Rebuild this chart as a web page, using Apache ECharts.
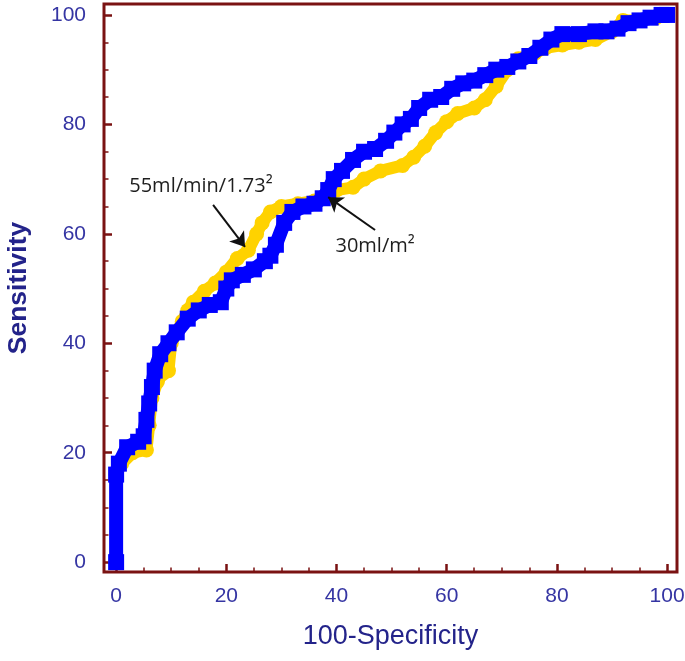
<!DOCTYPE html>
<html><head><meta charset="utf-8">
<script src="https://cdn.jsdelivr.net/npm/echarts@6/dist/echarts.min.js"></script>
<style>html,body{margin:0;padding:0;background:#fff}#c{width:685px;height:661px}</style>
</head><body><div id="c"></div>
<script>
// tick values
const majorTicks = [0, 20, 40, 60, 80, 100];
const minorTicks = [5, 10, 15, 25, 30, 35, 45, 50, 55, 65, 70, 75, 85, 90, 95];

// blue curve (30ml/m²)
const blueX = [0, 0, 0.5, 2, 4, 5, 5.5, 6, 6.5, 7, 8, 9.5, 11, 13, 15, 17, 19, 20, 21, 23, 25, 27, 28, 29, 30.5, 32, 34, 36, 37.5, 38.5, 39.5, 41, 43, 45, 47, 49, 50.5, 52, 53.5, 55, 57, 59, 61, 63, 65, 67, 69, 71, 73, 75, 77, 79, 81, 84, 87, 89, 91, 93, 95, 97, 99, 100];
const blueY = [0, 16, 18, 21, 22, 23, 26, 29, 32, 35, 38, 40, 42, 44.5, 46, 47, 47.5, 50, 51.5, 52.5, 53.5, 55, 56, 58, 62, 64, 65, 65.5, 66.5, 68, 70, 71.5, 73.5, 75, 75.5, 77, 78.5, 80, 81, 83, 84.5, 85, 86.5, 87.5, 88, 89, 90, 90.5, 91.5, 92.5, 94, 95.5, 96.5, 96.5, 97, 97, 97.5, 98.5, 99, 99.5, 100, 100];

// yellow curve (55ml/min/1.73²)
const yellowX = [0, 0, 1, 3, 5.5, 6, 6.5, 7.5, 8.5, 9.5, 10, 11, 12, 13, 14, 16, 18, 20, 22, 24, 25.5, 26.5, 28, 30, 33, 36, 38, 40, 43, 45, 48, 52, 54, 56, 58, 60, 62, 65, 67, 69, 71, 73, 76, 78, 81, 84, 87, 90, 92, 95, 98, 100];
const yellowY = [0, 16, 18, 20, 20.5, 25, 30, 33, 34.5, 35, 40, 42, 44, 46, 47.5, 49.5, 51, 53, 55.5, 57, 60, 62, 64, 65, 65.5, 66, 67, 68, 68.5, 70, 71.5, 72.5, 74, 76, 78.5, 80.5, 82, 83, 84.5, 87, 90, 92, 93, 94, 94.5, 95, 95.5, 97, 99, 99, 99.5, 100];

// annotations
const annoTexts = ['55ml/min/1.73²', '30ml/m²'];
const annoTextPos = [[15.4, 68.7], [47, 57.8]];
const arrows = [[[17.6, 65.3], [23.4, 57.6]], [[47, 60.7], [38.5, 66.7]]];

const frameColor = '#7a1212';
const labelColor = '#3535a3';
const titleColor = '#23238a';

const zip = (xs, ys) => xs.map((x, i) => [x, ys[i]]);

const chart = echarts.init(document.getElementById('c'));

function axisPair(isX) {
  const common = {
    type: 'value', min: isX ? -2.2 : -1.8, max: isX ? 101.8 : 102,
    axisLine: { show: false, onZero: false }, splitLine: { show: false }
  };
  const main = Object.assign({}, common, {
    axisTick: { show: true, inside: true, length: 8, customValues: majorTicks, lineStyle: { color: frameColor, width: 2.5 } },
    axisLabel: { show: true, customValues: majorTicks, color: labelColor, fontSize: 21, fontFamily: 'Liberation Sans, Arial', margin: isX ? 14 : 18 },
    name: isX ? '100-Specificity' : 'Sensitivity',
    nameLocation: 'middle',
    nameGap: isX ? 51 : 72,
    nameTextStyle: { color: titleColor, fontSize: isX ? 27 : 26.5, fontWeight: isX ? 'normal' : 'bold', fontFamily: 'Liberation Sans, Arial' }
  });
  const minor = Object.assign({}, common, {
    axisTick: { show: true, inside: true, length: 4.5, customValues: minorTicks, lineStyle: { color: frameColor, width: 1.5 } },
    axisLabel: { show: false }
  });
  return [main, minor];
}

chart.setOption({
  animation: false,
  backgroundColor: '#fff',
  grid: { left: 104, right: 8, top: 4, bottom: 89, show: true, borderColor: frameColor, borderWidth: 3, backgroundColor: 'transparent', containLabel: false, outerBoundsMode: 'none' },
  xAxis: axisPair(true).map(a => Object.assign(a, { position: 'bottom' })),
  yAxis: axisPair(false).map(a => Object.assign(a, { position: 'left' })),
  series: [
    {
      type: 'line', name: '55ml/min/1.73²', data: zip(yellowX, yellowY),
      symbol: 'circle', symbolSize: 15, showSymbol: true,
      lineStyle: { color: '#FFD200', width: 12 }, itemStyle: { color: '#FFD200' }, z: 2
    },
    {
      type: 'line', name: '30ml/m²', data: zip(blueX, blueY),
      symbol: 'rect', symbolSize: 16, showSymbol: true,
      lineStyle: { color: '#0000FF', width: 14 }, itemStyle: { color: '#0000FF' }, z: 3
    },
    {
      type: 'line', data: [], z: 5,
      markLine: {
        silent: true, symbol: ['none', 'arrow'], symbolSize: 14,
        label: { show: false },
        lineStyle: { color: '#111', width: 2, type: 'solid' },
        data: arrows.map(a => [{ coord: a[0] }, { coord: a[1] }])
      },
      markPoint: {
        silent: true, symbol: 'circle', symbolSize: 1,
        itemStyle: { color: 'rgba(0,0,0,0)' },
        label: { show: true, position: 'inside', color: '#1e1e1e', fontSize: 20, fontFamily: 'Open Sans', formatter: p => p.name },
        data: annoTexts.map((t, i) => ({ name: t, coord: annoTextPos[i] }))
      }
    }
  ]
});
</script></body></html>
